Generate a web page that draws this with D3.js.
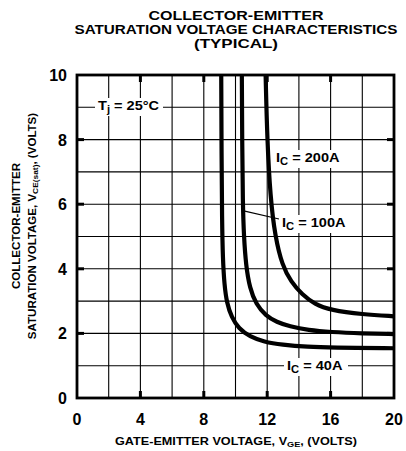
<!DOCTYPE html>
<html>
<head>
<meta charset="utf-8">
<script src="https://cdn.jsdelivr.net/npm/d3@7"></script>
<style>
  body { margin: 0; background: #fff; }
  text { font-family: "Liberation Sans", Arial, sans-serif; font-weight: bold; fill: #000; }
</style>
</head>
<body>
<svg id="chart" width="406" height="451"></svg>
<script>
// curves: [VGE, VCE(sat)]
const ic40 = [[9.1, 10], [9.12, 7.5], [9.15, 5.5], [9.2, 4.3], [9.3, 3.5], [9.45, 2.95], [9.75, 2.5], [10.2, 2.15], [10.9, 1.9], [11.8, 1.74], [12.9, 1.65], [14.6, 1.58], [16, 1.56], [20, 1.54]];
const ic100 = [[10.4, 10], [10.42, 8], [10.46, 6], [10.53, 5], [10.66, 4.1], [10.9, 3.4], [11.3, 2.9], [11.9, 2.55], [12.6, 2.35], [13.4, 2.22], [14.6, 2.1], [16, 2.04], [18, 2.0], [20, 1.98]];
const ic200 = [[11.9, 10], [12.0, 8], [12.2, 6.2], [12.5, 5.0], [12.95, 4.1], [13.5, 3.6], [14.2, 3.2], [15, 2.9], [16, 2.72], [18, 2.59], [20, 2.53]];

const xTicks = [0, 4, 8, 12, 16, 20];
const yTicks = [0, 2, 4, 6, 8, 10];
const titleLines = ["COLLECTOR-EMITTER", "SATURATION VOLTAGE CHARACTERISTICS", "(TYPICAL)"];
const titleWidths = [175, 323, 84];

let svg = d3.select("#chart");
let x0 = 77, x1 = 394, y0 = 75, y1 = 398;

let x = d3.scaleLinear().domain([0, 20]).range([x0, x1]);
let y = d3.scaleLinear().domain([0, 10]).range([y1, y0]);

// title
svg.append("g").selectAll("text")
    .data(titleLines)
    .join("text")
    .attr("x", 236)
    .attr("y", (d, i) => 20 + i * 14)
    .attr("text-anchor", "middle")
    .attr("textLength", (d, i) => titleWidths[i])
    .attr("lengthAdjust", "spacingAndGlyphs")
    .style("font-size", "12.5px")
    .text(d => d);

// grid
let grid = svg.append("g").attr("stroke", "#000").attr("stroke-width", 1.1);
grid.selectAll(".gx")
    .data(d3.range(2, 20, 2))
    .join("line")
    .attr("x1", d => x(d)).attr("x2", d => x(d))
    .attr("y1", y0).attr("y2", y1);
grid.selectAll(".gy")
    .data(d3.range(1, 10))
    .join("line")
    .attr("x1", x0).attr("x2", x1)
    .attr("y1", d => y(d)).attr("y2", d => y(d));

// heavier ticks at labelled values
let tk = svg.append("g").attr("stroke", "#000").attr("stroke-width", 3);
tk.selectAll(".tb")
    .data(xTicks.slice(1, -1))
    .join("line")
    .attr("x1", d => x(d)).attr("x2", d => x(d))
    .attr("y1", y1).attr("y2", y1 - 7);
tk.selectAll(".tt")
    .data(xTicks.slice(1, -1))
    .join("line")
    .attr("x1", d => x(d)).attr("x2", d => x(d))
    .attr("y1", y0).attr("y2", y0 + 7);
tk.selectAll(".tl")
    .data(yTicks.slice(1, -1))
    .join("line")
    .attr("x1", x0).attr("x2", x0 + 7)
    .attr("y1", d => y(d)).attr("y2", d => y(d));
tk.selectAll(".tr")
    .data(yTicks.slice(1, -1))
    .join("line")
    .attr("x1", x1).attr("x2", x1 - 7)
    .attr("y1", d => y(d)).attr("y2", d => y(d));

// frame
svg.append("rect")
    .attr("x", x0).attr("y", y0)
    .attr("width", x1 - x0).attr("height", y1 - y0)
    .attr("fill", "none").attr("stroke", "#000").attr("stroke-width", 2.8);

// tick labels
svg.append("g").selectAll("text")
    .data(xTicks)
    .join("text")
    .attr("x", d => x(d))
    .attr("y", 425)
    .attr("text-anchor", "middle")
    .style("font-size", "16px")
    .text(d => d);
svg.append("g").selectAll("text")
    .data(yTicks)
    .join("text")
    .attr("x", 67)
    .attr("y", d => y(d) + 6)
    .attr("text-anchor", "end")
    .style("font-size", "16px")
    .text(d => d);

// curves
let line = d3.line()
    .curve(d3.curveBasis)
    .x(d => x(d[0]))
    .y(d => y(d[1]));

svg.append("g").selectAll("path")
    .data([ic40, ic100, ic200])
    .join("path")
    .attr("d", line)
    .attr("fill", "none")
    .attr("stroke", "#000")
    .attr("stroke-width", 4.2);

// labels with white backing
function label(px, py, main, sub, rest, w) {
    svg.append("rect")
        .attr("x", px - 3).attr("y", py - 12)
        .attr("width", w + 6).attr("height", 18)
        .attr("fill", "#fff");
    let t = svg.append("text")
        .attr("transform", "translate(" + px + "," + py + ") scale(1.12,1)")
        .style("font-size", "13px");
    t.append("tspan").text(main);
    t.append("tspan").attr("dy", 3).style("font-size", "10px").text(sub);
    t.append("tspan").attr("dy", -3).text(rest);
}

// leader for 100A
svg.append("line")
    .attr("x1", x(10.45)).attr("y1", y(5.8))
    .attr("x2", 279).attr("y2", 219)
    .attr("stroke", "#000").attr("stroke-width", 1.2);

label(98, 110, "T", "j", " = 25°C", 62);
label(276, 162, "I", "C", " = 200A", 70);
label(282, 227, "I", "C", " = 100A", 70);
label(287, 370, "I", "C", " = 40A", 58);

// axis titles
let xt = svg.append("text")
    .attr("transform", "translate(236,445) scale(1.15,1)")
    .attr("text-anchor", "middle")
    .style("font-size", "11px");
xt.append("tspan").text("GATE-EMITTER VOLTAGE, V");
xt.append("tspan").attr("dy", 2).style("font-size", "8px").text("GE");
xt.append("tspan").attr("dy", -2).text(", (VOLTS)");

let yt = svg.append("g").attr("transform", "translate(20,226) rotate(-90) scale(1.05,1)");
yt.append("text")
    .attr("text-anchor", "middle")
    .style("font-size", "11px")
    .text("COLLECTOR-EMITTER");
let yt2 = yt.append("text")
    .attr("y", 16)
    .attr("text-anchor", "middle")
    .style("font-size", "11px");
yt2.append("tspan").text("SATURATION VOLTAGE, V");
yt2.append("tspan").attr("dy", 2).style("font-size", "8px").text("CE(sat)");
yt2.append("tspan").attr("dy", -2).text(", (VOLTS)");
</script>
</body>
</html>
